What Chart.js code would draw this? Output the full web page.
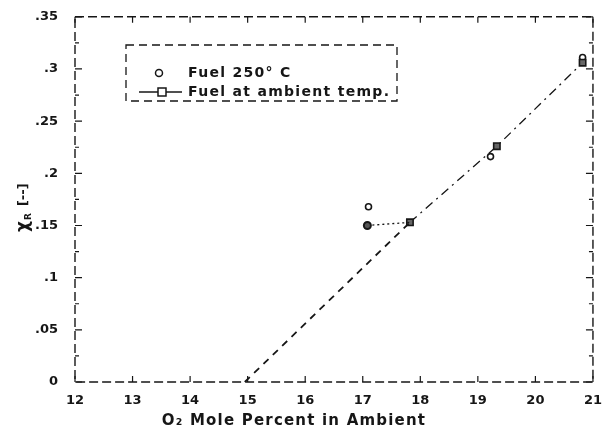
<!DOCTYPE html>
<html>
<head>
<meta charset="utf-8">
<script src="https://cdn.jsdelivr.net/npm/chart.js@4.4.1/dist/chart.umd.min.js"></script>
<style>
  html, body { margin: 0; padding: 0; background: #fff; }
  #wrap { width: 605px; height: 437px; }
</style>
</head>
<body>
<div id="wrap"><canvas id="myChart" width="605" height="437"></canvas></div>
<script>
// O2 mole percent in ambient vs radiative fraction
const fuelHotX = [17.1, 19.22, 20.82];
const fuelHotY = [0.168, 0.216, 0.311];
const fuelAmbX = [17.82, 19.33, 20.82];
const fuelAmbY = [0.153, 0.226, 0.306];
const extrapX = [14.95, 17.82];
const extrapY = [0, 0.153];
const shiftX = [17.08, 17.82];
const shiftY = [0.150, 0.153];
const xTicks = [12, 13, 14, 15, 16, 17, 18, 19, 20, 21];
const yTicks = [0, 0.05, 0.1, 0.15, 0.2, 0.25, 0.3, 0.35];
const legendLabels = ['Fuel 250\u00b0 C', 'Fuel at ambient temp.'];
const xTitle = 'O\u2082 Mole Percent in Ambient';

const ink = '#161616';
const ctx = document.getElementById('myChart').getContext('2d');

function pts(xs, ys) {
    let out = [];
    for (let i = 0; i < xs.length; i++) out.push({x: xs[i], y: ys[i]});
    return out;
}

function fmtY(v) {
    if (v === 0) return '0';
    return String(+v.toFixed(2)).replace(/^0\./, '.');
}

// dashed frame with inward ticks on all four sides
const framePlugin = {
    id: 'frame',
    afterDatasetsDraw(chart) {
        const c = chart.ctx;
        const a = chart.chartArea;
        const sx = chart.scales.x, sy = chart.scales.y;
        c.save();
        c.strokeStyle = ink;
        c.lineWidth = 1.4;
        c.setLineDash([9, 4]);
        c.beginPath();
        c.moveTo(a.left, a.top);
        c.lineTo(a.right, a.top);
        c.lineTo(a.right, a.bottom);
        c.lineTo(a.left, a.bottom);
        c.closePath();
        c.stroke();
        c.setLineDash([]);
        c.lineWidth = 1.2;
        c.beginPath();
        for (let i = 0; i < xTicks.length; i++) {
            const px = sx.getPixelForValue(xTicks[i]);
            c.moveTo(px, a.bottom); c.lineTo(px, a.bottom - 6);
            c.moveTo(px, a.top); c.lineTo(px, a.top + 6);
        }
        for (let v = 0; v <= 0.3501; v += 0.025) {
            const py = sy.getPixelForValue(v);
            const len = (Math.round(v * 1000) % 50 === 0) ? 7 : 4;
            c.moveTo(a.left, py); c.lineTo(a.left + len, py);
            c.moveTo(a.right, py); c.lineTo(a.right - len, py);
        }
        c.stroke();
        c.restore();
    }
};

// axis titles: x title spaced out, y title is chi with subscript R
const titlesPlugin = {
    id: 'titles',
    afterDraw(chart) {
        const c = chart.ctx;
        c.save();
        c.fillStyle = ink;
        c.textBaseline = 'middle';
        c.textAlign = 'center';
        c.font = 'bold 15px "DejaVu Sans"';
        c.letterSpacing = '1.2px';
        c.fillText(xTitle, 294, 421);
        c.letterSpacing = '0px';
        c.translate(24, 232);
        c.rotate(-Math.PI / 2);
        c.textAlign = 'left';
        c.font = 'bold 17px "DejaVu Sans"';
        c.fillText('\u03c7', 0, 0);
        let w = c.measureText('\u03c7').width;
        c.font = 'bold 9px "DejaVu Sans"';
        c.fillText('R', w + 1, 5);
        w += c.measureText('R').width + 8;
        c.font = 'bold 13px "DejaVu Sans"';
        c.fillText('[--]', w, 0);
        c.restore();
    }
};

// boxed legend drawn inside the plot
const boxLegendPlugin = {
    id: 'boxLegend',
    afterDraw(chart) {
        const c = chart.ctx;
        c.save();
        c.strokeStyle = ink;
        c.lineWidth = 1.3;
        c.setLineDash([8, 5]);
        c.strokeRect(126, 45, 271, 56);
        c.setLineDash([]);
        c.lineWidth = 1.5;
        c.beginPath();
        c.arc(159, 73, 3.5, 0, Math.PI * 2);
        c.stroke();
        c.beginPath();
        c.moveTo(139, 92); c.lineTo(182, 92);
        c.stroke();
        c.fillStyle = '#fff';
        c.fillRect(158, 88, 8, 8);
        c.strokeRect(158, 88, 8, 8);
        c.fillStyle = ink;
        c.font = 'bold 14px "DejaVu Sans"';
        c.letterSpacing = '1.3px';
        c.textBaseline = 'middle';
        c.textAlign = 'left';
        c.fillText(legendLabels[0], 188, 73);
        c.fillText(legendLabels[1], 188, 92);
        c.restore();
    }
};

let myChart = new Chart(ctx, {
    type: 'scatter',
    data: {
        datasets: [
            {
                label: 'extrapolation',
                data: pts(extrapX, extrapY),
                showLine: true,
                borderColor: ink,
                borderWidth: 1.8,
                borderDash: [7, 6],
                pointRadius: 0
            },
            {
                label: 'shift',
                data: pts(shiftX, shiftY),
                showLine: true,
                borderColor: ink,
                borderWidth: 1.3,
                borderDash: [2, 3],
                pointRadius: [3.5, 0],
                pointStyle: 'circle',
                pointBackgroundColor: '#555',
                pointBorderColor: ink,
                pointBorderWidth: 2
            },
            {
                label: legendLabels[1],
                data: pts(fuelAmbX, fuelAmbY),
                showLine: true,
                borderColor: ink,
                borderWidth: 1.3,
                borderDash: [9, 5, 2, 5],
                pointStyle: 'rect',
                pointRadius: 4.5,
                pointBackgroundColor: '#666',
                pointBorderColor: ink,
                pointBorderWidth: 1.6
            },
            {
                label: legendLabels[0],
                data: pts(fuelHotX, fuelHotY),
                showLine: false,
                pointStyle: 'circle',
                pointRadius: 3,
                pointBackgroundColor: '#fff',
                pointBorderColor: ink,
                pointBorderWidth: 1.6
            }
        ]
    },
    options: {
        responsive: false,
        animation: false,
        events: [],
        layout: { padding: { top: 12, right: 12, left: 0, bottom: 0 } },
        plugins: {
            legend: { display: false },
            tooltip: { enabled: false }
        },
        scales: {
            x: {
                type: 'linear',
                min: 12,
                max: 21,
                afterBuildTicks: (s) => { s.ticks = xTicks.map(v => ({value: v})); },
                afterFit: (s) => { s.height = 55; },
                grid: { display: false },
                border: { display: false },
                ticks: {
                    color: ink,
                    padding: 3,
                    maxRotation: 0,
                    font: { family: 'DejaVu Sans', size: 13, weight: 'bold' }
                }
            },
            y: {
                type: 'linear',
                min: 0,
                max: 0.35,
                afterBuildTicks: (s) => { s.ticks = yTicks.map(v => ({value: v})); },
                afterFit: (s) => { s.width = 75; },
                grid: { display: false },
                border: { display: false },
                ticks: {
                    color: ink,
                    padding: 9,
                    callback: (v) => fmtY(v),
                    font: { family: 'DejaVu Sans', size: 13, weight: 'bold' }
                }
            }
        }
    },
    plugins: [framePlugin, titlesPlugin, boxLegendPlugin]
});
</script>
</body>
</html>
